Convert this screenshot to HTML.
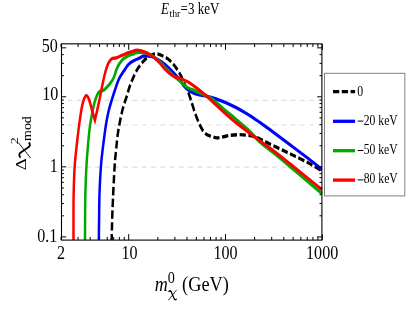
<!DOCTYPE html><html><head><meta charset="utf-8"><style>html,body{margin:0;padding:0;background:#fff}svg{display:block;will-change:transform}text{font-family:"Liberation Serif",serif;fill:#000}</style></head><body>
<svg width="413" height="312" viewBox="0 0 413 312">
<rect width="413" height="312" fill="#fff"/>
<defs><clipPath id="c"><rect x="61.50" y="43.85" width="261.90" height="196.25"/></clipPath></defs>
<line x1="61.50" x2="321.90" y1="100.31" y2="100.31" stroke="#dfdfdf" stroke-width="1.2" stroke-dasharray="5 4.3" stroke-dashoffset="3.5"/>
<line x1="61.50" x2="321.90" y1="124.98" y2="124.98" stroke="#dfdfdf" stroke-width="1.2" stroke-dasharray="5 4.3" stroke-dashoffset="3.5"/>
<line x1="61.50" x2="321.90" y1="167.15" y2="167.15" stroke="#dfdfdf" stroke-width="1.2" stroke-dasharray="5 4.3" stroke-dashoffset="3.5"/>
<g clip-path="url(#c)"><g transform="scale(1 1.330)" fill="none" stroke-width="2.5" stroke-linejoin="round">
<path d="M111.60 181.88C111.75 177.87 112.02 167.04 112.50 157.82C112.98 148.60 113.90 134.05 114.50 126.54C115.10 119.04 115.58 116.89 116.10 112.78C116.62 108.67 116.97 105.40 117.60 101.88C118.23 98.36 119.02 95.06 119.90 91.65C120.78 88.25 121.77 84.64 122.90 81.43C124.03 78.22 125.65 74.95 126.70 72.41C127.75 69.86 128.32 68.15 129.20 66.17C130.08 64.19 130.98 62.41 132.00 60.53C133.02 58.65 134.18 56.55 135.30 54.89C136.42 53.22 137.50 51.88 138.70 50.53C139.90 49.17 141.17 47.92 142.50 46.77C143.83 45.61 145.17 44.51 146.70 43.61C148.23 42.71 150.03 41.88 151.70 41.35C153.37 40.83 154.83 40.33 156.70 40.45C158.57 40.58 160.73 41.29 162.90 42.11C165.07 42.92 167.60 43.96 169.70 45.34C171.80 46.72 173.72 48.56 175.50 50.38C177.28 52.19 178.78 53.92 180.40 56.24C182.02 58.56 183.98 62.31 185.20 64.29C186.42 66.27 186.73 66.27 187.70 68.12C188.67 69.97 189.73 72.51 191.00 75.41C192.27 78.32 193.78 82.41 195.30 85.56C196.82 88.72 198.48 91.93 200.10 94.36C201.72 96.79 203.18 98.80 205.00 100.15C206.82 101.50 209.03 101.90 211.00 102.48C212.97 103.06 214.87 103.53 216.80 103.61C218.73 103.68 220.33 103.25 222.60 102.93C224.87 102.62 227.82 102.01 230.40 101.73C232.98 101.45 235.52 101.30 238.10 101.28C240.68 101.25 243.32 101.38 245.90 101.58C248.48 101.78 251.30 102.02 253.60 102.48C255.90 102.94 257.07 103.42 259.70 104.36C262.33 105.30 264.57 106.33 269.40 108.12C274.23 109.91 282.25 112.73 288.70 115.11C295.15 117.49 302.57 120.18 308.10 122.41C313.63 124.64 319.60 127.48 321.90 128.50" stroke="#000" stroke-dasharray="6.25 2.55" stroke-dashoffset="0.1"/>
<path d="M98.80 181.88C98.85 179.00 99.00 170.23 99.10 164.59C99.20 158.95 99.22 153.18 99.40 148.05C99.58 142.91 99.88 138.15 100.20 133.76C100.52 129.37 100.90 125.23 101.30 121.73C101.70 118.23 102.12 115.85 102.60 112.78C103.08 109.71 103.62 106.59 104.20 103.31C104.78 100.03 105.33 96.48 106.10 93.08C106.87 89.69 107.83 85.96 108.80 82.93C109.77 79.90 110.83 77.52 111.90 74.89C112.97 72.26 114.00 69.76 115.20 67.14C116.40 64.52 117.65 61.48 119.10 59.17C120.55 56.87 122.28 55.14 123.90 53.31C125.52 51.48 127.02 49.52 128.80 48.20C130.58 46.87 132.73 46.12 134.60 45.34C136.47 44.56 138.50 44.07 140.00 43.53C141.50 42.99 141.72 42.29 143.60 42.11C145.48 41.92 148.73 41.87 151.30 42.41C153.87 42.94 156.58 44.25 159.00 45.34C161.42 46.43 163.53 47.49 165.80 48.95C168.07 50.40 170.17 52.12 172.60 54.06C175.03 56.00 178.52 58.85 180.40 60.60C182.28 62.36 182.35 63.28 183.90 64.59C185.45 65.89 187.45 67.34 189.70 68.42C191.95 69.50 194.82 70.44 197.40 71.05C199.98 71.67 202.62 71.68 205.20 72.11C207.78 72.53 210.32 73.01 212.90 73.61C215.48 74.21 218.12 74.97 220.70 75.71C223.28 76.45 225.82 77.18 228.40 78.05C230.98 78.91 233.62 79.89 236.20 80.90C238.78 81.92 241.32 82.99 243.90 84.14C246.48 85.28 249.02 86.42 251.70 87.74C254.38 89.07 257.05 90.53 260.00 92.11C262.95 93.68 264.62 94.55 269.40 97.22C274.18 99.89 282.25 104.47 288.70 108.12C295.15 111.77 302.57 115.90 308.10 119.10C313.63 122.29 319.60 125.93 321.90 127.29" stroke="#0000ff"/>
<path d="M85.00 181.88C85.02 178.62 85.05 167.97 85.10 162.33C85.15 156.69 85.17 152.81 85.30 148.05C85.43 143.28 85.67 138.15 85.90 133.76C86.13 129.37 86.42 125.23 86.70 121.73C86.98 118.23 87.27 115.85 87.60 112.78C87.93 109.71 88.30 106.34 88.70 103.31C89.10 100.28 89.45 97.51 90.00 94.59C90.55 91.67 91.25 88.71 92.00 85.79C92.75 82.87 93.63 79.49 94.50 77.07C95.37 74.65 96.33 72.66 97.20 71.28C98.07 69.90 98.63 69.36 99.70 68.80C100.77 68.23 102.15 68.65 103.60 67.89C105.05 67.14 106.78 65.74 108.40 64.29C110.02 62.83 111.85 61.37 113.30 59.17C114.75 56.98 115.65 53.43 117.10 51.13C118.55 48.82 120.22 46.84 122.00 45.34C123.78 43.83 125.87 42.91 127.80 42.11C129.73 41.30 132.10 40.96 133.60 40.53C135.10 40.09 135.13 39.65 136.80 39.47C138.47 39.30 141.18 39.11 143.60 39.47C146.02 39.84 148.73 40.56 151.30 41.65C153.87 42.74 156.58 44.44 159.00 46.02C161.42 47.59 163.53 49.42 165.80 51.13C168.07 52.83 170.17 54.54 172.60 56.24C175.03 57.94 177.88 59.74 180.40 61.35C182.92 62.97 185.18 64.76 187.70 65.94C190.22 67.12 192.92 67.57 195.50 68.42C198.08 69.27 200.62 70.15 203.20 71.05C205.78 71.95 208.42 72.57 211.00 73.83C213.58 75.10 216.12 76.99 218.70 78.65C221.28 80.30 223.92 82.13 226.50 83.76C229.08 85.39 231.62 86.78 234.20 88.42C236.78 90.06 239.42 91.89 242.00 93.61C244.58 95.33 246.75 96.54 249.70 98.72C252.65 100.90 256.42 104.40 259.70 106.69C262.98 108.98 266.17 110.54 269.40 112.48C272.63 114.42 275.88 116.35 279.10 118.35C282.32 120.34 285.38 122.33 288.70 124.44C292.02 126.54 293.47 127.47 299.00 130.98C304.53 134.49 318.08 143.07 321.90 145.49" stroke="#00a800"/>
<path d="M73.50 181.88C73.50 178.62 73.48 167.97 73.50 162.33C73.52 156.69 73.50 152.81 73.60 148.05C73.70 143.28 73.87 138.15 74.10 133.76C74.33 129.37 74.65 125.23 75.00 121.73C75.35 118.23 75.77 115.85 76.20 112.78C76.63 109.71 77.08 106.59 77.60 103.31C78.12 100.03 78.68 96.48 79.30 93.08C79.92 89.69 80.65 85.71 81.30 82.93C81.95 80.15 82.40 78.22 83.20 76.39C84.00 74.56 85.12 72.21 86.10 71.95C87.08 71.70 88.12 73.06 89.10 74.89C90.08 76.72 91.03 80.35 92.00 82.93C92.97 85.51 94.42 89.14 94.90 90.38L94.90 90.38C95.28 89.14 96.40 85.64 97.20 82.93C98.00 80.23 98.97 76.82 99.70 74.14C100.43 71.45 100.73 69.95 101.60 66.84C102.47 63.73 103.77 58.71 104.90 55.49C106.03 52.27 107.23 49.41 108.40 47.52C109.57 45.63 110.60 44.80 111.90 44.14C113.20 43.47 114.52 43.95 116.20 43.53C117.88 43.12 120.07 42.28 122.00 41.65C123.93 41.03 125.87 40.33 127.80 39.77C129.73 39.22 132.10 38.68 133.60 38.35C135.10 38.01 135.13 37.67 136.80 37.74C138.47 37.82 141.18 38.15 143.60 38.80C146.02 39.45 148.73 40.33 151.30 41.65C153.87 42.98 156.58 44.94 159.00 46.77C161.42 48.60 163.53 50.93 165.80 52.63C168.07 54.34 170.17 55.90 172.60 56.99C175.03 58.08 177.82 58.40 180.40 59.17C182.98 59.95 185.90 60.78 188.10 61.65C190.30 62.53 191.40 63.23 193.60 64.44C195.80 65.64 198.72 67.29 201.30 68.87C203.88 70.45 206.52 72.14 209.10 73.91C211.68 75.68 214.22 77.64 216.80 79.47C219.38 81.30 222.02 83.15 224.60 84.89C227.18 86.63 229.73 88.31 232.30 89.92C234.87 91.54 237.42 93.07 240.00 94.59C242.58 96.10 245.22 97.56 247.80 99.02C250.38 100.49 253.52 102.23 255.50 103.38C257.48 104.54 257.38 104.66 259.70 105.94C262.02 107.22 266.17 109.27 269.40 111.05C272.63 112.83 275.88 114.72 279.10 116.62C282.32 118.51 285.38 120.40 288.70 122.41C292.02 124.41 293.47 125.29 299.00 128.65C304.53 132.01 318.08 140.24 321.90 142.56" stroke="#ff0000" stroke-linejoin="miter" stroke-miterlimit="10"/>
</g></g>
<rect x="61.50" y="43.85" width="260.40" height="196.25" fill="none" stroke="#000" stroke-width="1.1"/>
<path d="M61.04 240.10v-3.20M61.04 43.85v3.20M78.09 240.10v-3.20M78.09 43.85v3.20M90.18 240.10v-3.20M90.18 43.85v3.20M99.56 240.10v-3.20M99.56 43.85v3.20M107.23 240.10v-3.20M107.23 43.85v3.20M113.71 240.10v-3.20M113.71 43.85v3.20M119.32 240.10v-3.20M119.32 43.85v3.20M124.27 240.10v-3.20M124.27 43.85v3.20M128.70 240.10v-6.00M128.70 43.85v6.00M157.84 240.10v-3.20M157.84 43.85v3.20M174.89 240.10v-3.20M174.89 43.85v3.20M186.98 240.10v-3.20M186.98 43.85v3.20M196.36 240.10v-3.20M196.36 43.85v3.20M204.03 240.10v-3.20M204.03 43.85v3.20M210.51 240.10v-3.20M210.51 43.85v3.20M216.12 240.10v-3.20M216.12 43.85v3.20M221.07 240.10v-3.20M221.07 43.85v3.20M225.50 240.10v-6.00M225.50 43.85v6.00M254.64 240.10v-3.20M254.64 43.85v3.20M271.69 240.10v-3.20M271.69 43.85v3.20M283.78 240.10v-3.20M283.78 43.85v3.20M293.16 240.10v-3.20M293.16 43.85v3.20M300.83 240.10v-3.20M300.83 43.85v3.20M307.31 240.10v-3.20M307.31 43.85v3.20M312.92 240.10v-3.20M312.92 43.85v3.20M317.87 240.10v-3.20M317.87 43.85v3.20M322.30 240.10v-6.00M322.30 43.85v6.00M61.50 236.90h4.70M321.90 236.90h-4.70M61.50 215.81h2.40M321.90 215.81h-2.40M61.50 203.48h2.40M321.90 203.48h-2.40M61.50 194.73h2.40M321.90 194.73h-2.40M61.50 187.94h2.40M321.90 187.94h-2.40M61.50 182.39h2.40M321.90 182.39h-2.40M61.50 177.70h2.40M321.90 177.70h-2.40M61.50 173.64h2.40M321.90 173.64h-2.40M61.50 170.06h2.40M321.90 170.06h-2.40M61.50 166.85h4.70M321.90 166.85h-4.70M61.50 145.76h2.40M321.90 145.76h-2.40M61.50 133.43h2.40M321.90 133.43h-2.40M61.50 124.68h2.40M321.90 124.68h-2.40M61.50 117.89h2.40M321.90 117.89h-2.40M61.50 112.34h2.40M321.90 112.34h-2.40M61.50 107.65h2.40M321.90 107.65h-2.40M61.50 103.59h2.40M321.90 103.59h-2.40M61.50 100.01h2.40M321.90 100.01h-2.40M61.50 96.80h4.70M321.90 96.80h-4.70M61.50 75.71h2.40M321.90 75.71h-2.40M61.50 63.38h2.40M321.90 63.38h-2.40M61.50 54.63h2.40M321.90 54.63h-2.40M61.50 47.84h4.70M321.90 47.84h-4.70" stroke="#000" stroke-width="1.0" fill="none"/>
<text transform="translate(41.64 51.95) scale(0.1610 0.1970)" font-size="100">50</text>
<text transform="translate(42.15 100.45) scale(0.1610 0.1970)" font-size="100">10</text>
<text transform="translate(49.78 171.50) scale(0.1610 0.1970)" font-size="100">1</text>
<text transform="translate(37.20 241.75) scale(0.1610 0.1970)" font-size="100">0.1</text>
<text transform="translate(57.11 259.30) scale(0.1610 0.1970)" font-size="100">2</text>
<text transform="translate(121.55 259.20) scale(0.1610 0.1970)" font-size="100">10</text>
<text transform="translate(213.52 259.20) scale(0.1610 0.1970)" font-size="100">100</text>
<text transform="translate(306.05 259.20) scale(0.1610 0.1970)" font-size="100">1000</text>
<text transform="translate(160.97 13.81) scale(0.1300 0.1580)" font-size="100" font-style="italic">E</text>
<text transform="translate(169.41 17.29) scale(0.0990 0.1100)" font-size="100">thr</text>
<text transform="translate(180.62 13.64) scale(0.1300 0.1580)" font-size="100">=3 keV</text>
<text transform="translate(154.68 291.39) scale(0.1810 0.2040)" font-size="100" font-style="italic">m</text>
<text transform="translate(167.75 283.28) scale(0.1420 0.1650)" font-size="100">0</text>
<path d="M176.60 289.90 L168.40 300.40" stroke="#000" stroke-width="0.80" fill="none"/>
<path d="M168.73 291.89 C169.30 290.53 170.61 290.32 171.19 291.69 L174.22 298.72 C174.80 300.08 175.94 300.08 176.60 298.72" stroke="#000" stroke-width="1.30" fill="none"/>
<text transform="translate(182.12 290.84) scale(0.1830 0.2140)" font-size="100">(GeV)</text>
<text transform="translate(26.30 170.29) rotate(-90) scale(0.1860 0.1560)" font-size="100">Δ</text>
<path d="M18.30 142.50 L30.70 158.20" stroke="#000" stroke-width="0.90" fill="none"/>
<path d="M20.66 157.57 C19.04 156.47 18.80 153.96 20.41 152.86 L28.72 147.05 C30.33 145.95 30.33 143.76 28.72 142.50" stroke="#000" stroke-width="1.80" fill="none"/>
<text transform="translate(18.23 144.23) rotate(-90) scale(0.1400 0.1100)" font-size="100">2</text>
<text transform="translate(31.41 140.89) rotate(-90) scale(0.1390 0.1180)" font-size="100">mod</text>
<rect x="324.5" y="73.3" width="80.3" height="122.6" fill="#fff" stroke="#808080" stroke-width="1"/>
<line x1="333.0" x2="355.1" y1="91.60" y2="91.60" stroke="#000" stroke-width="3.3" stroke-dasharray="6.25 2.55"/>
<text transform="translate(357.15 95.89) scale(0.1180 0.1560)" font-size="100">0</text>
<line x1="333.0" x2="355.1" y1="121.30" y2="121.30" stroke="#0000ff" stroke-width="3.3"/>
<line x1="357.7" x2="363.4" y1="121.10" y2="121.10" stroke="#000" stroke-width="1"/>
<text transform="translate(363.77 124.59) scale(0.1165 0.1460)" font-size="100">20 keV</text>
<line x1="333.0" x2="355.1" y1="150.70" y2="150.70" stroke="#00a800" stroke-width="3.3"/>
<line x1="357.7" x2="363.4" y1="150.50" y2="150.50" stroke="#000" stroke-width="1"/>
<text transform="translate(363.65 154.19) scale(0.1165 0.1460)" font-size="100">50 keV</text>
<line x1="333.0" x2="355.1" y1="180.10" y2="180.10" stroke="#ff0000" stroke-width="3.3"/>
<line x1="357.7" x2="363.4" y1="179.90" y2="179.90" stroke="#000" stroke-width="1"/>
<text transform="translate(363.77 183.49) scale(0.1165 0.1460)" font-size="100">80 keV</text>
</svg></body></html>
